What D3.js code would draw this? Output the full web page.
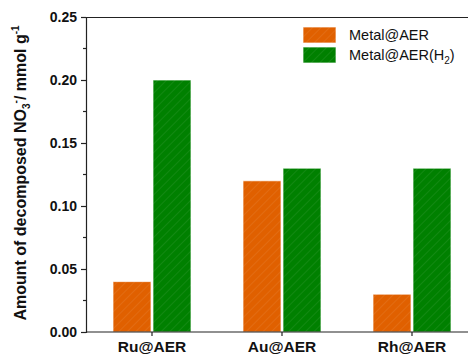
<!DOCTYPE html>
<html><head><meta charset="utf-8">
<script src="https://cdn.jsdelivr.net/npm/d3@7"></script>
<style>body{margin:0;background:#fff}svg{display:block}text{font-family:Arial,"Liberation Sans",sans-serif}</style>
</head><body><svg id="c" width="468" height="355"></svg>
<script>
const categories = ["Ru@AER", "Au@AER", "Rh@AER"];
const metalAER = [0.04, 0.12, 0.03];
const metalAERH2 = [0.20, 0.13, 0.13];
const yTicks = [0.00, 0.05, 0.10, 0.15, 0.20, 0.25];
const seriesNames = ["Metal@AER", "Metal@AER(H2)"];
const colors = ["#E06000", "#008000"];

const svg = d3.select("#c");
const xLeft = 86, xRight = 478;
const y = d3.scaleLinear().domain([0, 0.25]).range([332, 17]);
const x = d3.scaleBand().domain(categories).range([87, 477]).padding(0);

const defs = svg.append("defs");
colors.forEach((c, i) => {
  const p = defs.append("pattern").attr("id", "h" + i).attr("patternUnits", "userSpaceOnUse")
    .attr("width", 6).attr("height", 6).attr("patternTransform", "rotate(45)");
  p.append("rect").attr("width", 6).attr("height", 6).attr("fill", c);
  p.append("line").attr("x1", 0).attr("y1", 0).attr("x2", 0).attr("y2", 6)
    .attr("stroke", "#fff").attr("stroke-opacity", 0.12).attr("stroke-width", 1.2);
});

svg.append("line").attr("x1", xLeft).attr("x2", xRight).attr("y1", 17.5).attr("y2", 17.5)
  .attr("stroke", "#222").attr("stroke-width", 1.2);

const series = [metalAER, metalAERH2];
const bw = 38;
series.forEach((vals, si) => {
  svg.append("g").selectAll("rect").data(vals).join("rect")
    .attr("x", (d, i) => x(categories[i]) + x.bandwidth() / 2 + (si === 0 ? -bw - 1 : 1))
    .attr("width", bw)
    .attr("y", d => y(d))
    .attr("height", d => y(0) - y(d))
    .attr("fill", "url(#h" + si + ")")
    .attr("stroke", "#fff").attr("stroke-opacity", 0.7).attr("stroke-width", 1);
});

const yAxis = d3.axisLeft(y).tickValues(yTicks).tickFormat(d3.format(".2f")).tickSize(5).tickPadding(4);
const gy = svg.append("g").attr("transform", `translate(${xLeft},0)`).call(yAxis);
gy.select(".domain").attr("stroke", "#222").attr("stroke-width", 1.2);
gy.selectAll(".tick line").attr("stroke", "#222").attr("stroke-width", 1.2);
gy.selectAll(".tick text").attr("font-size", 14).attr("font-weight", "bold").attr("fill", "#111");
const minor = d3.range(0.025, 0.25, 0.05);
svg.append("g").selectAll("line").data(minor).join("line")
  .attr("x1", xLeft - 3).attr("x2", xLeft).attr("y1", d => y(d)).attr("y2", d => y(d))
  .attr("stroke", "#222").attr("stroke-width", 1.2);

const xAxis = d3.axisBottom(x).tickSize(4).tickPadding(5).tickSizeOuter(0);
const gx = svg.append("g").attr("transform", `translate(0,${y(0)})`).call(xAxis);
gx.select(".domain").attr("d", `M${xLeft},0H${xRight}`).attr("stroke", "#222").attr("stroke-width", 1.2);
gx.selectAll(".tick line").attr("stroke", "#222").attr("stroke-width", 1.2);
gx.selectAll(".tick text").attr("font-size", 15.5).attr("font-weight", "bold").attr("fill", "#111");

const yl = svg.append("text").attr("transform", "translate(26,173) rotate(-90)")
  .attr("text-anchor", "middle").attr("font-size", 16).attr("font-weight", "bold").attr("fill", "#111");
yl.append("tspan").text("Amount of decomposed NO");
yl.append("tspan").text("3").attr("font-size", 10).attr("dy", 4);
yl.append("tspan").text("-").attr("font-size", 10).attr("dy", -11);
yl.append("tspan").text("/ mmol g").attr("dy", 7);
yl.append("tspan").text("-1").attr("font-size", 10).attr("dy", -7);

const lg = svg.append("g");
seriesNames.forEach((n, i) => {
  lg.append("rect").attr("x", 303).attr("y", 27 + i * 20).attr("width", 33).attr("height", 16)
    .attr("fill", "url(#h" + i + ")").attr("stroke", "#fff").attr("stroke-opacity", 0.7);
  const t = lg.append("text").attr("x", 349).attr("y", 40 + i * 20).attr("font-size", 14.5).attr("fill", "#111");
  if (n.endsWith("(H2)")) {
    t.append("tspan").text("Metal@AER(H");
    t.append("tspan").text("2").attr("font-size", 10).attr("dy", 4);
    t.append("tspan").text(")").attr("dy", -4);
  } else t.text(n);
});
</script></body></html>
